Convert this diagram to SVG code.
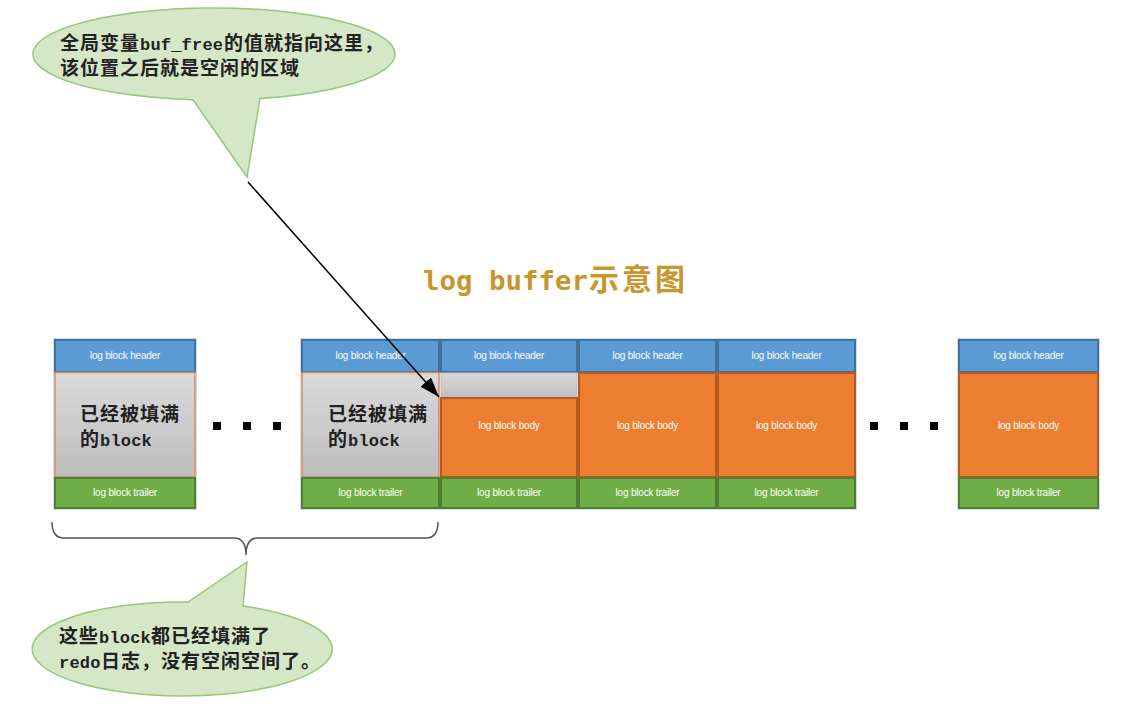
<svg xmlns="http://www.w3.org/2000/svg" width="1141" height="714" viewBox="0 0 1141 714">
<defs>
<linearGradient id="gray" x1="0" y1="0" x2="0" y2="1">
<stop offset="0" stop-color="#dadada"/>
<stop offset="1" stop-color="#bdbdbd"/>
</linearGradient>
<marker id="ah" markerUnits="userSpaceOnUse" markerWidth="22" markerHeight="16" refX="20" refY="7" orient="auto">
<path d="M0,0 L20,7 L0,14 Z" fill="#000"/>
</marker>
<style>
.hd{fill:#5B9BD5;stroke:#41719C;stroke-width:2}
.bd{fill:#ED7D31;stroke:#B35A22;stroke-width:2}
.tr{fill:#70AD47;stroke:#507E32;stroke-width:2}
.gy{fill:url(#gray);stroke:#D08A5E;stroke-width:1.5}
.out{fill:none;stroke:#d3dbe3;stroke-width:1}
.lbl{font-family:"Liberation Sans",Arial,sans-serif;font-size:10px;fill:#fff;text-anchor:middle;letter-spacing:-0.2px}
.cjk{font-family:"Noto Sans CJK SC",sans-serif;font-size:19px;font-weight:bold;letter-spacing:1px;fill:#222}
.mono{font-family:"Liberation Mono","DejaVu Sans Mono",monospace;font-size:17px;font-weight:bold;letter-spacing:0.2px;fill:#222}
.call{fill:#D5E7C7;stroke:#98C67C;stroke-width:1.5}
.dot{fill:#000}
.ttl{fill:#C7962C;font-weight:bold}
</style>
</defs>
<rect width="1141" height="714" fill="#fff"/>

<g id="title">
<text class="ttl" x="423" y="290" font-family="DejaVu Sans Mono,Liberation Mono,monospace" font-size="27.4">log buffer</text>
<text class="ttl" x="589" y="290" font-family="Noto Sans CJK SC,sans-serif" font-size="30" letter-spacing="3">示意图</text>
</g>

<g id="block-first">
<rect class="out" x="53.5" y="338.5" width="143" height="171"/>
<rect class="hd" x="55" y="340" width="140" height="32"/>
<rect class="gy" x="55" y="372.5" width="140" height="104.5"/>
<rect class="tr" x="55" y="478" width="140" height="30"/>
<text class="lbl" x="125" y="358.5">log block header</text>
<text class="cjk" x="80" y="421">已经被填满</text>
<text class="cjk" x="80" y="446">的</text>
<text class="mono" x="100" y="446">block</text>
<text class="lbl" x="125" y="495.5">log block trailer</text>
</g>

<g id="dots-left">
<rect class="dot" x="213" y="422" width="8" height="8"/>
<rect class="dot" x="243" y="422" width="8" height="8"/>
<rect class="dot" x="273" y="422" width="8" height="8"/>
</g>

<g id="block-group">
<rect class="out" x="300.5" y="338.5" width="556" height="171"/>
<g id="col1">
<rect class="hd" x="302" y="340" width="137" height="32"/>
<rect class="gy" x="302" y="372.5" width="137" height="104.5"/>
<rect class="tr" x="302" y="478" width="137" height="30"/>
<text class="lbl" x="370.5" y="358.5">log block header</text>
<text class="cjk" x="328" y="421">已经被填满</text>
<text class="cjk" x="328" y="446">的</text>
<text class="mono" x="348" y="446">block</text>
<text class="lbl" x="370.5" y="495.5">log block trailer</text>
</g>
<g id="col2">
<rect class="hd" x="441" y="340" width="136" height="32"/>
<rect x="441" y="373" width="136" height="25" fill="url(#gray)" stroke="#bcbcbc" stroke-width="1"/>
<rect class="bd" x="441" y="398" width="136" height="79"/>
<rect class="tr" x="441" y="478" width="136" height="30"/>
<text class="lbl" x="509" y="358.5">log block header</text>
<text class="lbl" x="509" y="428.5">log block body</text>
<text class="lbl" x="509" y="495.5">log block trailer</text>
</g>
<g id="col3">
<rect class="hd" x="579" y="340" width="137" height="32"/>
<rect class="bd" x="579" y="373" width="137" height="104"/>
<rect class="tr" x="579" y="478" width="137" height="30"/>
<text class="lbl" x="647.5" y="358.5">log block header</text>
<text class="lbl" x="647.5" y="428.5">log block body</text>
<text class="lbl" x="647.5" y="495.5">log block trailer</text>
</g>
<g id="col4">
<rect class="hd" x="718" y="340" width="137" height="32"/>
<rect class="bd" x="718" y="373" width="137" height="104"/>
<rect class="tr" x="718" y="478" width="137" height="30"/>
<text class="lbl" x="786.5" y="358.5">log block header</text>
<text class="lbl" x="786.5" y="428.5">log block body</text>
<text class="lbl" x="786.5" y="495.5">log block trailer</text>
</g>
</g>

<g id="dots-right">
<rect class="dot" x="870" y="422" width="8" height="8"/>
<rect class="dot" x="900" y="422" width="8" height="8"/>
<rect class="dot" x="930" y="422" width="8" height="8"/>
</g>

<g id="block-last">
<rect class="out" x="957.5" y="338.5" width="142" height="171"/>
<rect class="hd" x="959" y="340" width="139" height="32"/>
<rect class="bd" x="959" y="373" width="139" height="104"/>
<rect class="tr" x="959" y="478" width="139" height="30"/>
<text class="lbl" x="1028.5" y="358.5">log block header</text>
<text class="lbl" x="1028.5" y="428.5">log block body</text>
<text class="lbl" x="1028.5" y="495.5">log block trailer</text>
</g>

<g id="callout-top">
<path class="call" d="M193,99.7 A181,46 0 1 1 260,98.5 L247,177 Z"/>
<text class="cjk" x="60" y="49.5">全局变量</text>
<text class="mono" x="140" y="49.5">buf_free</text>
<text class="cjk" x="224" y="49.5">的值就指向这里，</text>
<text class="cjk" x="60" y="75">该位置之后就是空闲的区域</text>
</g>

<g id="callout-bottom">
<path class="call" d="M243,606 A150,47 0 1 1 188,602 L247,562 Z"/>
<text class="cjk" x="59" y="643">这些</text>
<text class="mono" x="99" y="643">block</text>
<text class="cjk" x="151" y="643">都已经填满了</text>
<text class="mono" x="59" y="668">redo</text>
<text class="cjk" x="101" y="668">日志，没有空闲空间了。</text>
</g>

<g id="connectors">
<line x1="248" y1="182" x2="439" y2="397" stroke="#000" stroke-width="1.5" marker-end="url(#ah)"/>
<path d="M52,522 Q52,538 64,538 L234,538 Q246,538 246,555 Q246,538 258,538 L426,538 Q438,538 438,522" fill="none" stroke="#555" stroke-width="1.5"/>
</g>
</svg>
